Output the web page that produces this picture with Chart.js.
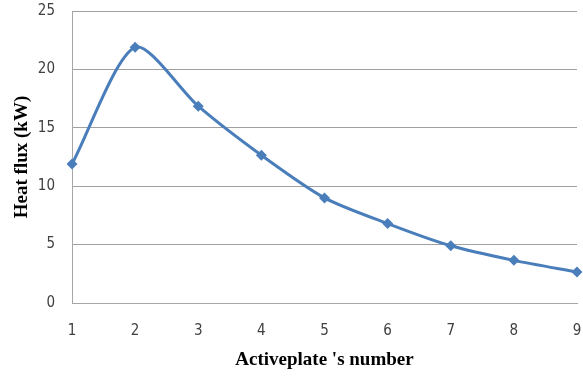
<!DOCTYPE html>
<html>
<head>
<meta charset="utf-8">
<script src="https://cdn.jsdelivr.net/npm/chart.js@4/dist/chart.umd.min.js"></script>
<style>
    html, body { margin: 0; padding: 0; background: #fff; }
    #wrap { width: 583px; height: 376px; }
</style>
</head>
<body>
<div id="wrap"><canvas id="chart1"></canvas></div>
<script>
// data
const plate_numbers = ['1', '2', '3', '4', '5', '6', '7', '8', '9'];
const heat_flux = [11.9, 21.9, 16.85, 12.65, 9.0, 6.8, 4.9, 3.65, 2.65];
const y_ticks = [0, 5, 10, 15, 20, 25];

const tick_font = {
    family: "'Liberation Sans Narrow', 'DejaVu Sans Condensed', 'Liberation Sans', sans-serif",
    size: 15,
};
const title_font = {
    family: "'Liberation Serif', 'Times New Roman', serif",
    size: 19,
    weight: 'bold',
};

// let layout.padding alone decide the chart area
function no_scale_padding(scale) {
    scale.paddingTop = 0;
    scale.paddingBottom = 0;
    scale.paddingLeft = 0;
    scale.paddingRight = 0;
}

const data_flux = {
    labels: plate_numbers,
    datasets: [{
        label: 'Heat flux',
        data: heat_flux,
        borderColor: '#4a7ebb',
        backgroundColor: '#4a7ebb',
        borderWidth: 3,
        tension: 0.26,
        pointStyle: 'rectRot',
        pointRadius: 5.5,
        pointBorderWidth: 0,
        fill: false,
    }],
};

const config_flux = {
    type: 'line',
    data: data_flux,
    options: {
        responsive: true,
        maintainAspectRatio: false,
        animation: false,
        layout: {
            padding: { top: 11, right: 6, left: 0, bottom: 0 },
        },
        plugins: {
            legend: { display: false },
            tooltip: { enabled: false },
        },
        scales: {
            x: {
                offset: false,
                grid: { display: false, drawTicks: false },
                border: { color: '#a6a6a6', width: 1 },
                ticks: { color: '#404040', font: tick_font, padding: 19, maxRotation: 0 },
                title: {
                    display: true,
                    text: "Activeplate 's number",
                    color: '#000',
                    font: title_font,
                    padding: { top: 0, bottom: 5 },
                },
                afterFit: function (scale) {
                    scale.height = 73;
                    no_scale_padding(scale);
                },
            },
            y: {
                min: 0,
                max: 25,
                afterBuildTicks: function (scale) {
                    scale.ticks = y_ticks.map(v => ({ value: v }));
                },
                grid: { color: '#a0a0a0', lineWidth: 1, drawTicks: false },
                border: { color: '#a6a6a6', width: 1 },
                ticks: { color: '#404040', font: tick_font, padding: 17 },
                title: {
                    display: true,
                    text: 'Heat flux (kW)',
                    color: '#000',
                    font: title_font,
                    padding: { top: 11, bottom: 0 },
                },
                afterFit: function (scale) {
                    scale.width = 72;
                    no_scale_padding(scale);
                },
            },
        },
    },
};

const ctx_flux = document.getElementById('chart1').getContext('2d');
const flux = new Chart(ctx_flux, config_flux);
</script>
</body>
</html>
